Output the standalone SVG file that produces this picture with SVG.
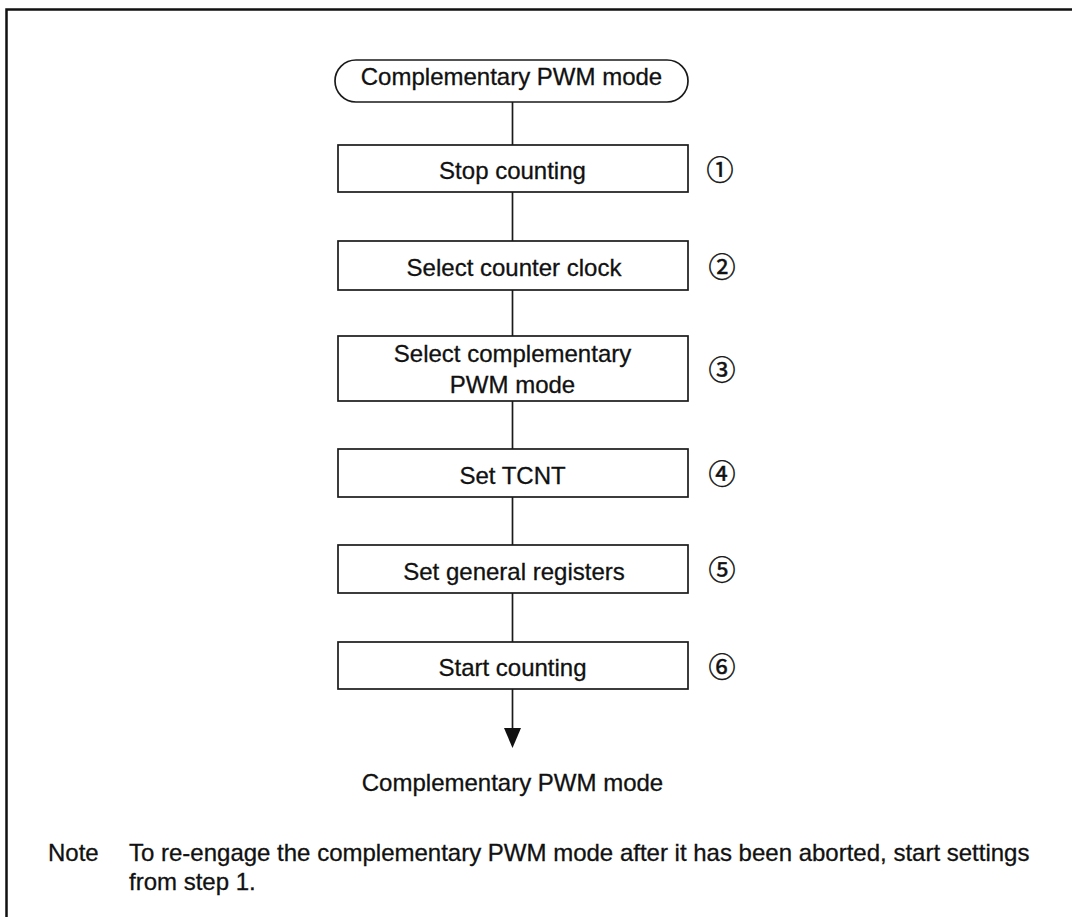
<svg xmlns="http://www.w3.org/2000/svg" width="1072" height="917" viewBox="0 0 1072 917">
<defs>
<style>
.box{fill:#fff;stroke:#1a1a1a;stroke-width:1.7}
.t{font-family:"Liberation Sans",Arial,sans-serif;font-size:24px;fill:#111;stroke:#111;stroke-width:0.3;text-anchor:middle}
.tl{font-family:"Liberation Sans",Arial,sans-serif;font-size:24px;fill:#111;stroke:#111;stroke-width:0.3}
.num{font-family:"Noto Sans CJK JP","DejaVu Sans",sans-serif;font-size:27px;fill:#111;stroke:#111;stroke-width:0.5;text-anchor:middle;dominant-baseline:central}
.ln{stroke:#1a1a1a;stroke-width:1.7;fill:none}
.frame{stroke:#111;stroke-width:2.5;fill:none}
</style>
</defs>
<rect width="1072" height="917" fill="#fff"/>
<path class="frame" d="M6.5,917 V9.5 H1072"/>
<g id="connectors">
<line class="ln" x1="512.5" y1="102" x2="512.5" y2="145"/>
<line class="ln" x1="512.5" y1="192" x2="512.5" y2="241"/>
<line class="ln" x1="512.5" y1="290" x2="512.5" y2="336"/>
<line class="ln" x1="512.5" y1="401" x2="512.5" y2="449"/>
<line class="ln" x1="512.5" y1="497" x2="512.5" y2="545"/>
<line class="ln" x1="512.5" y1="593" x2="512.5" y2="642"/>
<line class="ln" x1="512.5" y1="689" x2="512.5" y2="732"/>
<polygon points="504,728 521,728 512.5,748" fill="#111"/>
</g>
<g id="start">
<rect class="box" x="335" y="60" width="353" height="42" rx="21" ry="21"/>
<text class="t" x="511.5" y="85">Complementary PWM mode</text>
</g>
<g id="step1">
<rect class="box" x="338" y="145" width="350" height="47"/>
<text class="t" x="512.5" y="179">Stop counting</text>
<text class="num" x="720" y="168">①</text>
</g>
<g id="step2">
<rect class="box" x="338" y="241" width="350" height="49"/>
<text class="t" x="514" y="276">Select counter clock</text>
<text class="num" x="722" y="265">②</text>
</g>
<g id="step3">
<rect class="box" x="338" y="336" width="350" height="65"/>
<text class="t" x="512.5" y="362">Select complementary</text>
<text class="t" x="512.5" y="393">PWM mode</text>
<text class="num" x="722" y="368">③</text>
</g>
<g id="step4">
<rect class="box" x="338" y="449" width="350" height="48"/>
<text class="t" x="512.5" y="484">Set TCNT</text>
<text class="num" x="722" y="472">④</text>
</g>
<g id="step5">
<rect class="box" x="338" y="545" width="350" height="48"/>
<text class="t" x="514" y="580">Set general registers</text>
<text class="num" x="722" y="568">⑤</text>
</g>
<g id="step6">
<rect class="box" x="338" y="642" width="350" height="47"/>
<text class="t" x="512.5" y="676">Start counting</text>
<text class="num" x="722" y="665">⑥</text>
</g>
<g id="end">
<text class="t" x="512.5" y="791">Complementary PWM mode</text>
</g>
<g id="note">
<text class="tl" x="48" y="861">Note</text>
<text class="tl" x="129" y="861">To re-engage the complementary PWM mode after it has been aborted, start settings</text>
<text class="tl" x="129" y="890">from step 1.</text>
</g>
</svg>
